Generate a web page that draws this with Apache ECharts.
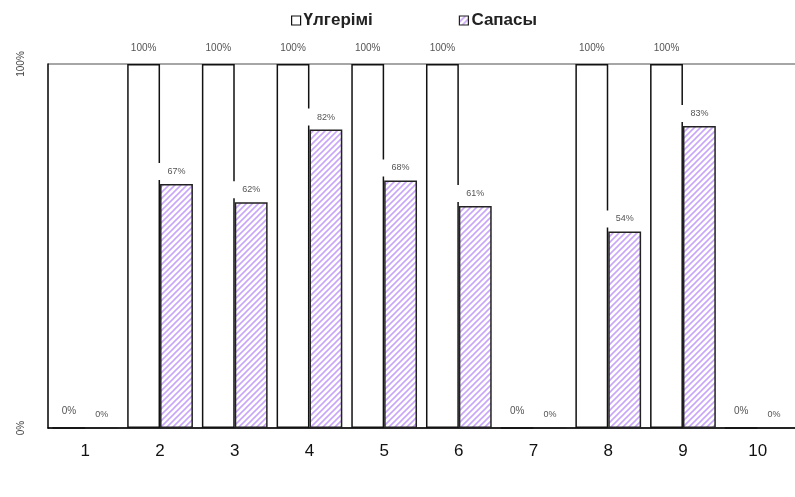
<!DOCTYPE html>
<html>
<head>
<meta charset="UTF-8">
<title></title>
<style type="text/css">
html, body { margin: 0; padding: 0; background: #fff; }
#main { width: 795px; height: 497px; }
</style>
</head>
<body>
<div id="main"></div>
<script src="https://cdn.jsdelivr.net/npm/echarts@6/dist/echarts.min.js"></script>
<script type="text/javascript">
var categories = ['1', '2', '3', '4', '5', '6', '7', '8', '9', '10'];
var ulgerimi = [0, 100, 100, 100, 100, 100, 0, 100, 100, 0];
var sapasy = [0, 67, 62, 82, 68, 61, 0, 54, 83, 0];
var yTicks = [0, 100];

// diagonal hatch for the second series
var hatch = document.createElement('canvas');
hatch.width = 6;
hatch.height = 6;
var ctx = hatch.getContext('2d');
ctx.fillStyle = '#fff';
ctx.fillRect(0, 0, 6, 6);
ctx.strokeStyle = '#c9a6f8';
ctx.lineWidth = 1.6;
ctx.beginPath();
ctx.moveTo(0, 6); ctx.lineTo(6, 0);
ctx.moveTo(-3, 3); ctx.lineTo(3, -3);
ctx.moveTo(3, 9); ctx.lineTo(9, 3);
ctx.stroke();

var font = 'Liberation Sans, Arial, sans-serif';

var myChart = echarts.init(document.getElementById('main'));
var option = {
	animation: false,
	textStyle: { fontFamily: font },
	legend: {
		top: 7,
		left: 286,
		itemGap: 86,
		itemWidth: 9,
		itemHeight: 9,
		icon: 'rect',
		itemStyle: { borderWidth: 1.2 },
		textStyle: { fontSize: 17, fontWeight: 'bold', color: '#222', padding: [0, 0, 0, -2] },
		data: ['Үлгерімі', 'Сапасы']
	},
	grid: { left: 48, right: 0, top: 64, bottom: 69 },
	xAxis: {
		type: 'category',
		data: categories,
		axisLine: { lineStyle: { color: '#000', width: 1.5 } },
		axisTick: { length: 5, lineStyle: { color: '#000', width: 1.5 } },
		axisLabel: { fontSize: 17, color: '#111', margin: 15 }
	},
	yAxis: {
		type: 'value',
		min: yTicks[0],
		max: yTicks[1],
		interval: 100,
		axisLine: { show: true, lineStyle: { color: '#000', width: 1.5 } },
		axisTick: { show: false },
		splitLine: { lineStyle: { color: '#888', width: 1.5 } },
		axisLabel: { rotate: 90, fontSize: 10, color: '#444', margin: 22, formatter: '{value}%' }
	},
	series: [{
		name: 'Үлгерімі',
		type: 'bar',
		data: ulgerimi,
		barGap: '0%',
		barCategoryGap: '12%',
		itemStyle: { color: '#fff', borderColor: '#111', borderWidth: 1.5 },
		label: { show: true, position: 'top', distance: 11, fontSize: 10, color: '#555', formatter: '{c}%' }
	}, {
		name: 'Сапасы',
		type: 'bar',
		data: sapasy,
		itemStyle: { color: { image: hatch, repeat: 'repeat' }, borderColor: '#222', borderWidth: 1.5 },
		label: {
			show: true, position: 'top', distance: 4, fontSize: 9, color: '#555',
			backgroundColor: '#fff', padding: [4, 12], formatter: '{c}%'
		}
	}]
};
myChart.setOption(option);
</script>
</body>
</html>
